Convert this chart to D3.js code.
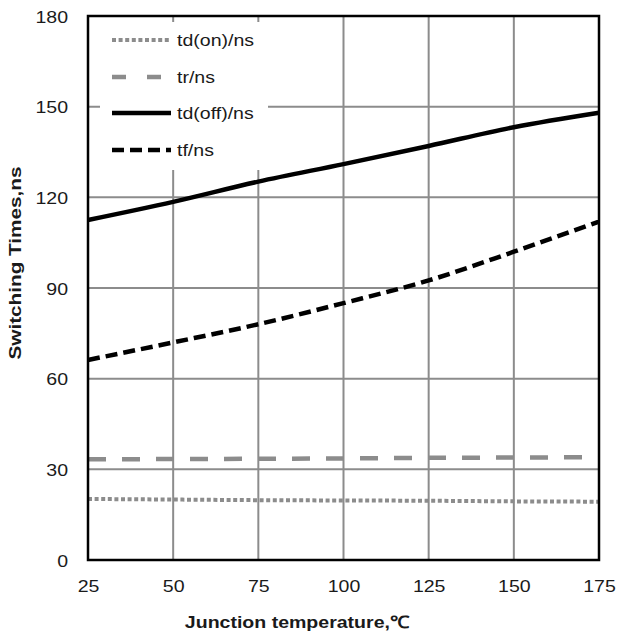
<!DOCTYPE html>
<html>
<head>
<meta charset="utf-8">
<script src="https://cdn.jsdelivr.net/npm/d3@7"></script>
<style>
  html, body { margin: 0; padding: 0; background: #fff; }
  svg { display: block; }
  text { font-family: "Liberation Sans", Arial, sans-serif; fill: #1a1a1a; }
</style>
</head>
<body>
<svg id="chart" width="620" height="631"></svg>
<script>
// ---- data ----
const temps = [25, 50, 75, 100, 125, 150, 175];
const tdOn  = [20.2, 20.0, 19.8, 19.7, 19.6, 19.4, 19.3];
const tr    = [33.3, 33.4, 33.5, 33.6, 33.8, 33.9, 34.0];
const tdOff = [112.5, 118.5, 125.2, 131.0, 137.0, 143.2, 148.0];
const tf    = [66.2, 72.0, 78.0, 85.0, 92.5, 102.0, 112.0];
const seriesNames = ["td(on)/ns", "tr/ns", "td(off)/ns", "tf/ns"];
const xTicks = [25, 50, 75, 100, 125, 150, 175];
const yTicks = [0, 30, 60, 90, 120, 150, 180];
const xTitle = "Junction temperature,\u2103";
const yTitle = "Switching Times,ns";

// ---- layout ----
const svg = d3.select("#chart");
const L = 88, R = 599, T = 16, B = 560;
const SX = 1.15; // horizontal text stretch of the reference
const x = d3.scaleLinear().domain([25, 175]).range([L, R]);
const y = d3.scaleLinear().domain([0, 180]).range([B, T]);

const styles = [
  { color: "#8c8c8c", width: 4, dash: "4,2.6" },
  { color: "#8c8c8c", width: 4.5, dash: "18,16" },
  { color: "#000", width: 4.5, dash: null },
  { color: "#000", width: 4.5, dash: "12,6" }
];
const seriesVals = [tdOn, tr, tdOff, tf];

function stext(px, py, str, opts) {
  const g = svg.append("g").attr("transform", `translate(${px},${py}) scale(${SX},1)`);
  const t = g.append("text").text(str)
    .attr("font-size", opts.size || 17)
    .attr("text-anchor", opts.anchor || "start");
  if (opts.bold) t.attr("font-weight", "bold");
  if (opts.dy) t.attr("dy", opts.dy);
  return g;
}

// grid
const grid = svg.append("g");
grid.selectAll("line.h").data(yTicks.filter(v => v > 0 && v < 180)).join("line")
  .attr("x1", L).attr("x2", R).attr("y1", d => y(d)).attr("y2", d => y(d))
  .attr("stroke", "#8c8c8c").attr("stroke-width", 2);
grid.selectAll("line.v").data(xTicks.filter(v => v > 25 && v < 175)).join("line")
  .attr("y1", T).attr("y2", B).attr("x1", d => x(d)).attr("x2", d => x(d))
  .attr("stroke", "#8c8c8c").attr("stroke-width", 2);

// legend background
svg.append("rect").attr("x", 100).attr("y", 22).attr("width", 168).attr("height", 148).attr("fill", "#fff");

// series
const line = d3.line().x((d, i) => x(temps[i])).y(d => y(d)).curve(d3.curveMonotoneX);
seriesVals.forEach((vals, k) => {
  const p = svg.append("path").datum(vals).attr("d", line)
    .attr("fill", "none").attr("stroke", styles[k].color)
    .attr("stroke-width", styles[k].width);
  if (styles[k].dash) p.attr("stroke-dasharray", styles[k].dash);
});

// frame
svg.append("rect").attr("x", L).attr("y", T).attr("width", R - L).attr("height", B - T)
  .attr("fill", "none").attr("stroke", "#000").attr("stroke-width", 2.5);

// axes tick labels via d3 axes (domain/ticks hidden, labels restyled)
const xAxis = svg.append("g").attr("transform", `translate(0,${B})`)
  .call(d3.axisBottom(x).tickValues(xTicks).tickSize(0).tickPadding(0));
xAxis.select(".domain").remove();
xAxis.selectAll(".tick text").remove();
xAxis.selectAll(".tick").each(function(d) {
  d3.select(this).append("g").attr("transform", `translate(0,32) scale(${SX},1)`)
    .append("text").text(d).attr("font-size", 17).attr("text-anchor", "middle")
    .attr("fill", "#1a1a1a");
});
const yAxis = svg.append("g").attr("transform", `translate(${L},0)`)
  .call(d3.axisLeft(y).tickValues(yTicks).tickSize(0).tickPadding(0));
yAxis.select(".domain").remove();
yAxis.selectAll(".tick text").remove();
yAxis.selectAll(".tick").each(function(d) {
  d3.select(this).append("g").attr("transform", `translate(-20,0) scale(${SX},1)`)
    .append("text").text(d).attr("font-size", 17).attr("text-anchor", "end")
    .attr("dy", "0.36em").attr("fill", "#1a1a1a");
});

// legend
const legY = [40, 77, 113, 150];
seriesNames.forEach((name, k) => {
  const ly = legY[k];
  const p = svg.append("line").attr("x1", 112).attr("x2", 171).attr("y1", ly).attr("y2", ly)
    .attr("stroke", styles[k].color).attr("stroke-width", styles[k].width);
  if (styles[k].dash) p.attr("stroke-dasharray", k === 1 ? "14,21" : styles[k].dash);
  stext(177, ly, name, { dy: "0.36em" });
});

// titles
stext(297, 628, xTitle, { bold: true, anchor: "middle" });
svg.append("g").attr("transform", `translate(21,263) rotate(-90) scale(1.22,1)`)
  .append("text").text(yTitle).attr("font-size", 17).attr("font-weight", "bold")
  .attr("text-anchor", "middle");
</script>
</body>
</html>
